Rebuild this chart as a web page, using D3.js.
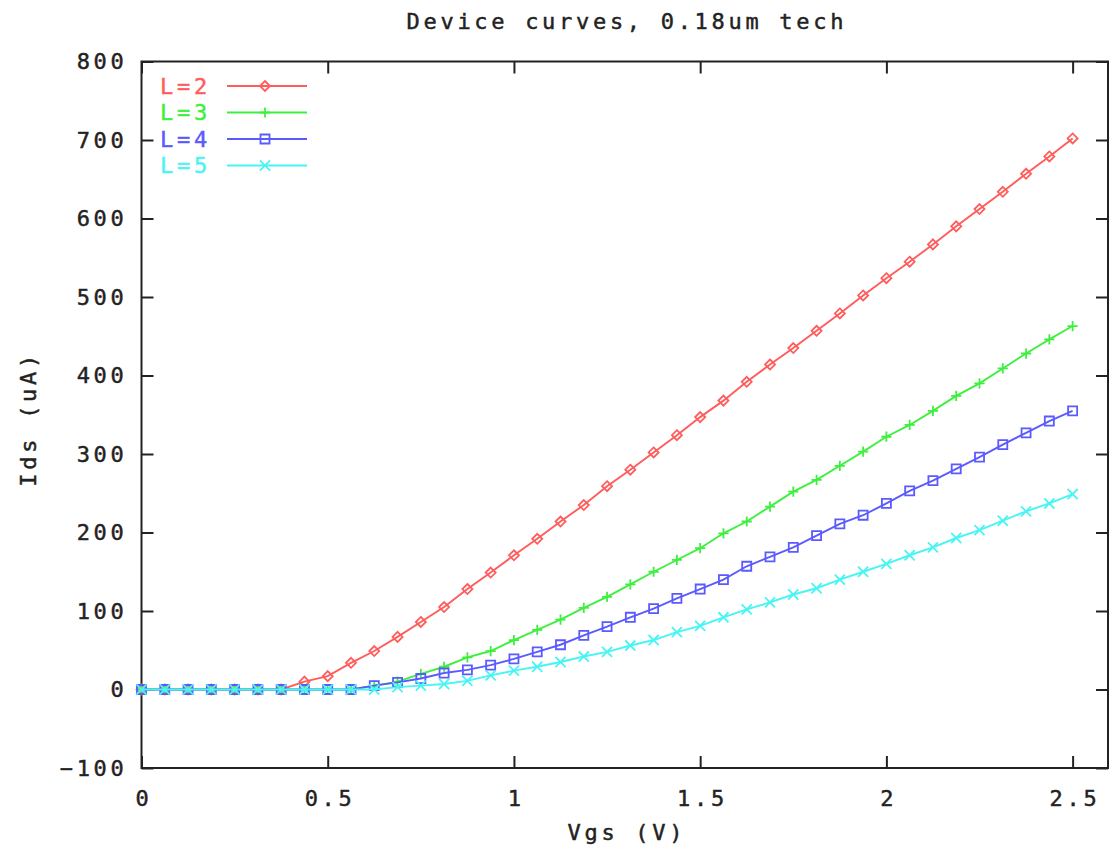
<!DOCTYPE html>
<html>
<head>
<meta charset="utf-8">
<script src="https://cdn.jsdelivr.net/npm/d3@7"></script>
<style>
  body { margin: 0; background: #fff; }
  svg text { font-family: "DejaVu Sans Mono", monospace; fill: #222; }
</style>
</head>
<body>
<svg id="chart" width="1110" height="848"></svg>
<script>
// ===========
// Data
// ===========

var vgs = [0, 0.0625, 0.125, 0.1875, 0.25, 0.3125, 0.375, 0.4375, 0.5, 0.5625,
           0.625, 0.6875, 0.75, 0.8125, 0.875, 0.9375, 1.0, 1.0625, 1.125, 1.1875,
           1.25, 1.3125, 1.375, 1.4375, 1.5, 1.5625, 1.625, 1.6875, 1.75, 1.8125,
           1.875, 1.9375, 2.0, 2.0625, 2.125, 2.1875, 2.25, 2.3125, 2.375, 2.4375, 2.5];

var ids_L2 = [0, 0, 0, 0, 0, 0, 0, 10, 17, 34,
              49, 67, 86, 105, 128, 149, 171, 192, 214, 235,
              259, 280, 302, 324, 347, 368, 392, 414, 435, 457,
              479, 502, 524, 545, 567, 590, 612, 634, 657, 679, 702];

var ids_L3 = [0, 0, 0, 0, 0, 0, 0, 0, 0, 0,
              5, 10, 20, 29, 41, 49, 63, 76, 89, 104,
              118, 134, 150, 165, 180, 199, 214, 233, 252, 267,
              285, 303, 322, 337, 355, 374, 390, 409, 428, 446, 463];

var ids_L4 = [0, 0, 0, 0, 0, 0, 0, 0, 0, 0,
              5, 9, 14, 21, 25, 31, 39, 48, 57, 69,
              80, 92, 103, 116, 128, 140, 157, 169, 181, 196,
              211, 222, 237, 253, 266, 281, 296, 312, 327, 342, 355];

var ids_L5 = [0, 0, 0, 0, 0, 0, 0, 0, 0, 0,
              0, 3, 5, 7, 11, 18, 24, 29, 35, 42,
              48, 56, 63, 73, 81, 92, 102, 111, 121, 129,
              140, 150, 160, 171, 181, 193, 203, 215, 227, 237, 249];

var series_names = ['L=2', 'L=3', 'L=4', 'L=5'];
var x_ticks = [0, 0.5, 1, 1.5, 2, 2.5];
var y_ticks = [-100, 0, 100, 200, 300, 400, 500, 600, 700, 800];

var title_text = 'Device curves, 0.18um tech';
var x_label = 'Vgs (V)';
var y_label = 'Ids (uA)';

// ===========
// Setup
// ===========

var colors = ['#ff5c5c', '#3ef03e', '#5a5aff', '#48f4f4'];
var symbols = [
    d3.symbol().type(d3.symbolDiamond2).size(64),
    d3.symbol().type(d3.symbolPlus).size(36),
    d3.symbol().type(d3.symbolSquare2).size(104),
    d3.symbol().type(d3.symbolX).size(68)
];
var all_series = [ids_L2, ids_L3, ids_L4, ids_L5];

var font_size = 22;
var ls = 3.7;   // letter spacing to get the wide gnuplot font pitch

var plot = {left: 141.5, right: 1108, top: 61.5, bottom: 768};

var svg = d3.select('#chart');

var x = d3.scaleLinear().domain([0, 2.595]).range([plot.left, plot.right]);
var y = d3.scaleLinear().domain([-100, 800]).range([plot.bottom, plot.top]);

// ===========
// Axes
// ===========

function style_text(sel){
    sel.style('font-size', font_size + 'px')
        .style('letter-spacing', ls + 'px')
        .style('stroke-width', 0.45)
        .style('paint-order', 'stroke');
}

function style_axis(g){
    g.select('.domain').remove();
    g.selectAll('.tick line').attr('stroke', '#222').attr('stroke-width', 2);
    g.selectAll('.tick text')
        .call(style_text)
        .style('stroke', '#222')
        .attr('fill', '#222');
}

svg.append('g')
    .attr('transform', 'translate(' + plot.left + ',0)')
    .call(d3.axisLeft(y).tickValues(y_ticks).tickSize(-12).tickPadding(14))
    .call(style_axis);

svg.append('g')
    .attr('transform', 'translate(' + plot.right + ',0)')
    .call(d3.axisRight(y).tickValues(y_ticks).tickSize(-12).tickFormat(''))
    .call(style_axis);

var x_axis_g = svg.append('g')
    .attr('transform', 'translate(0,' + plot.bottom + ')')
    .call(d3.axisBottom(x).tickValues(x_ticks).tickSize(-12).tickPadding(22)
          .tickFormat(d3.format('~g')))
    .call(style_axis);
x_axis_g.selectAll('.tick text').attr('dx', ls / 2);

svg.append('g')
    .attr('transform', 'translate(0,' + plot.top + ')')
    .call(d3.axisTop(x).tickValues(x_ticks).tickSize(-12).tickFormat(''))
    .call(style_axis);

// border
svg.append('rect')
    .attr('x', plot.left)
    .attr('y', plot.top)
    .attr('width', plot.right - plot.left)
    .attr('height', plot.bottom - plot.top)
    .attr('fill', 'none')
    .attr('stroke', '#222')
    .attr('stroke-width', 2);

// ===========
// Series
// ===========

var line = d3.line()
    .x(function(d){ return x(d[0]); })
    .y(function(d){ return y(d[1]); });

all_series.forEach(function(values, i){
    var pts = vgs.map(function(v, j){ return [v, values[j]]; });
    var g = svg.append('g').attr('class', 'series');
    g.append('path')
        .datum(pts)
        .attr('d', line)
        .attr('fill', 'none')
        .attr('stroke', colors[i])
        .attr('stroke-width', 1.9);
    g.selectAll('.pt')
        .data(pts)
        .enter()
        .append('path')
        .attr('class', 'pt')
        .attr('transform', function(d){ return 'translate(' + x(d[0]) + ',' + y(d[1]) + ')'; })
        .attr('d', symbols[i])
        .attr('fill', 'none')
        .attr('stroke', colors[i])
        .attr('stroke-width', 1.8);
});

// ===========
// Legend
// ===========

var legend = svg.append('g');
series_names.forEach(function(name, i){
    var ry = 86 + i * 26.5;
    legend.append('text')
        .attr('x', 160)
        .attr('y', ry)
        .attr('dy', '0.36em')
        .call(style_text)
        .style('fill', colors[i])
        .style('stroke', colors[i])
        .text(name);
    legend.append('line')
        .attr('x1', 227).attr('x2', 307)
        .attr('y1', ry).attr('y2', ry)
        .attr('stroke', colors[i])
        .attr('stroke-width', 1.9);
    legend.append('path')
        .attr('transform', 'translate(265,' + ry + ')')
        .attr('d', symbols[i])
        .attr('fill', 'none')
        .attr('stroke', colors[i])
        .attr('stroke-width', 1.8);
});

// ===========
// Titles
// ===========

svg.append('text')
    .attr('x', 625 + ls / 2)
    .attr('y', 29)
    .attr('text-anchor', 'middle')
    .call(style_text)
    .style('stroke', '#222')
    .text(title_text);

svg.append('text')
    .attr('x', 625 + ls / 2)
    .attr('y', 840)
    .attr('text-anchor', 'middle')
    .call(style_text)
    .style('stroke', '#222')
    .text(x_label);

svg.append('text')
    .attr('transform', 'translate(36,' + (417 + ls / 2) + ') rotate(-90)')
    .attr('text-anchor', 'middle')
    .call(style_text)
    .style('stroke', '#222')
    .text(y_label);
</script>
</body>
</html>
